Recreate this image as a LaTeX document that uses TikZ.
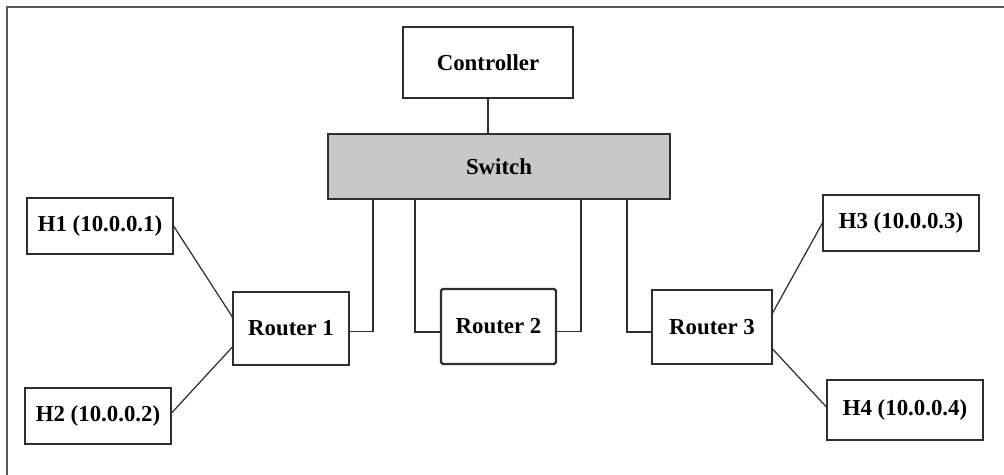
\documentclass[tikz,border=0pt]{standalone}
\usepackage{fontspec}
\setmainfont{Liberation Serif}
\usepackage{tikz}
\usetikzlibrary{calc}
\definecolor{edge}{HTML}{2E2E2E}
\definecolor{swfill}{HTML}{C8C8C8}
\tikzset{
  box/.style={draw=edge,line width=0.65pt,inner sep=0pt,font=\fontsize{13}{15}\selectfont\bfseries},
  link/.style={draw=edge,line width=0.7pt}
}

\begin{document}
\begin{tikzpicture}
      \useasboundingbox (0,0) rectangle (20.08,9.5);
      \draw[gray!70!black,line width=0.8pt] (0.14,0)--(0.14,9.36)--(20.08,9.36);
      \node[box,minimum width=3.4cm,minimum height=1.42cm] (Ctrl) at (9.76,8.25) {Controller};
      \node[box,fill=swfill,minimum width=6.84cm,minimum height=1.3cm] (Sw) at (9.98,6.17) {Switch};
      \node[box,minimum width=2.32cm,minimum height=1.46cm] (R1) at (5.82,2.93) {Router 1};
      \node[box,line width=1.3pt,rounded corners=1pt,minimum width=2.3cm,minimum height=1.5cm] (R2) at (9.97,2.97) {Router 2};
      \node[box,minimum width=2.4cm,minimum height=1.48cm] (R3) at (14.24,2.96) {Router 3};
      \node[box,minimum width=2.92cm,minimum height=1.12cm] (H1) at (2.0,4.98) {H1 (10.0.0.1)};
      \node[box,minimum width=2.92cm,minimum height=1.12cm] (H2) at (1.96,1.18) {H2 (10.0.0.2)};
      \node[box,minimum width=3.12cm,minimum height=1.12cm] (H3) at (18.02,5.04) {H3 (10.0.0.3)};
      \node[box,minimum width=3.12cm,minimum height=1.2cm] (H4) at (18.1,1.3) {H4 (10.0.0.4)};
      \coordinate (T1) at (7.46,0);
      \coordinate (T2) at (8.3,0);
      \coordinate (T3) at (11.62,0);
      \coordinate (T4) at (12.54,0);
      \draw[link] (Ctrl.south)--(Ctrl.south|-Sw.north);
      % switch ports down to the routers
      \draw[link] (Sw.south-|T1)|-([yshift=-0.06cm]R1.east);
      \draw[link] (Sw.south-|T2)|-([yshift=-0.11cm]R2.west);
      \draw[link] (Sw.south-|T3)|-([yshift=-0.1cm]R2.east);
      \draw[link] (Sw.south-|T4)|-([yshift=-0.1cm]R3.west);
      % hosts
      \draw[link] (H1.east)--([yshift=0.23cm]R1.west);
      \draw[link] ([yshift=0.06cm]H2.east)--([yshift=-0.37cm]R1.west);
      \draw[link] ([yshift=0.28cm]R3.east)--(H3.west);
      \draw[link] ([yshift=-0.44cm]R3.east)--([yshift=0.06cm]H4.west);
    \end{tikzpicture}
\end{document}
